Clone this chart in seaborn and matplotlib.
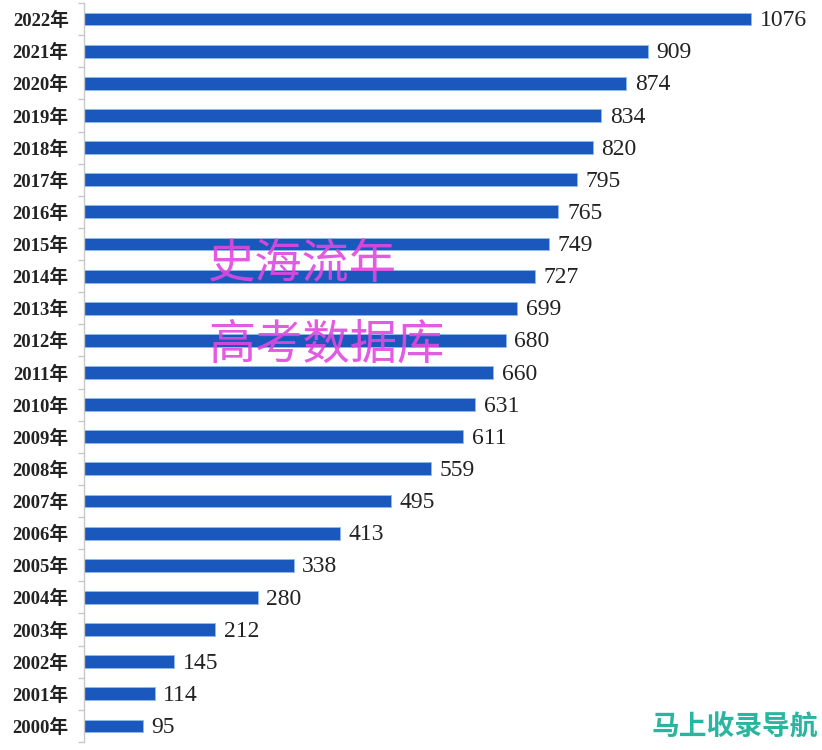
import matplotlib
matplotlib.use("Agg")
import matplotlib.pyplot as plt
import seaborn as sns
import pandas as pd
from matplotlib.ticker import FixedLocator

years = ["2022年", "2021年", "2020年", "2019年", "2018年", "2017年", "2016年", "2015年",
         "2014年", "2013年", "2012年", "2011年", "2010年", "2009年", "2008年", "2007年",
         "2006年", "2005年", "2004年", "2003年", "2002年", "2001年", "2000年"]
values = [1076, 909, 874, 834, 820, 795, 765, 749, 727, 699, 680, 660, 631, 611,
          559, 495, 413, 338, 280, 212, 145, 114, 95]

df = pd.DataFrame({"year": years, "value": values})

sns.set_theme(style="white")
plt.rcParams["font.family"] = ["Liberation Serif", "Noto Sans CJK SC", "DejaVu Sans"]

fig = plt.figure(figsize=(8.22, 7.5), dpi=100)
ax = fig.add_axes([84 / 822, 8 / 750, 1 - 84 / 822, 739 / 750])

sns.barplot(data=df, x="value", y="year", order=years, orient="h",
            color="#1b58bd", saturation=1, width=0.4, ax=ax,
            edgecolor="#8fbbe8", linewidth=0.6)

ax.set_xlim(0, 1190)
ax.set_ylim(len(years) - 0.5, -0.5)
ax.set_xlabel("")
ax.set_ylabel("")
ax.set_xticks([])

for s in ["top", "right", "bottom"]:
    ax.spines[s].set_visible(False)
ax.spines["left"].set_color("#c8c8c8")
ax.spines["left"].set_linewidth(1.0)

ax.tick_params(axis="y", which="major", length=0, pad=11)
ax.yaxis.set_minor_locator(FixedLocator([i - 0.5 for i in range(len(years) + 1)]))
ax.tick_params(axis="y", which="minor", length=4, color="#c8c8c8", width=1, left=True)
for lab in ax.get_yticklabels():
    lab.set_fontweight("bold")
    lab.set_fontsize(13.5)
    lab.set_color("#222222")

for i, v in enumerate(values):
    ax.text(v + 14, i + 0.05, str(v), va="center", ha="left", fontsize=17,
            color="#222222", family=["Liberation Serif", "DejaVu Sans"])

fig.text(208 / 822, 1 - 265 / 750, "史海流年", fontsize=34, color="#e048e0",
         va="center", ha="left", family=["Noto Sans CJK SC"], fontweight="light", alpha=0.9)
fig.text(208 / 822, 1 - 345 / 750, "高考数据库", fontsize=34, color="#e048e0",
         va="center", ha="left", family=["Noto Sans CJK SC"], fontweight="light", alpha=0.9)
fig.text(818 / 822, 1 - 727 / 750, "马上收录导航", fontsize=20, color="#2ab5a0",
         va="center", ha="right", family=["Noto Sans CJK SC"], fontweight="bold")

fig.savefig("out.png", dpi=100, facecolor="white")
